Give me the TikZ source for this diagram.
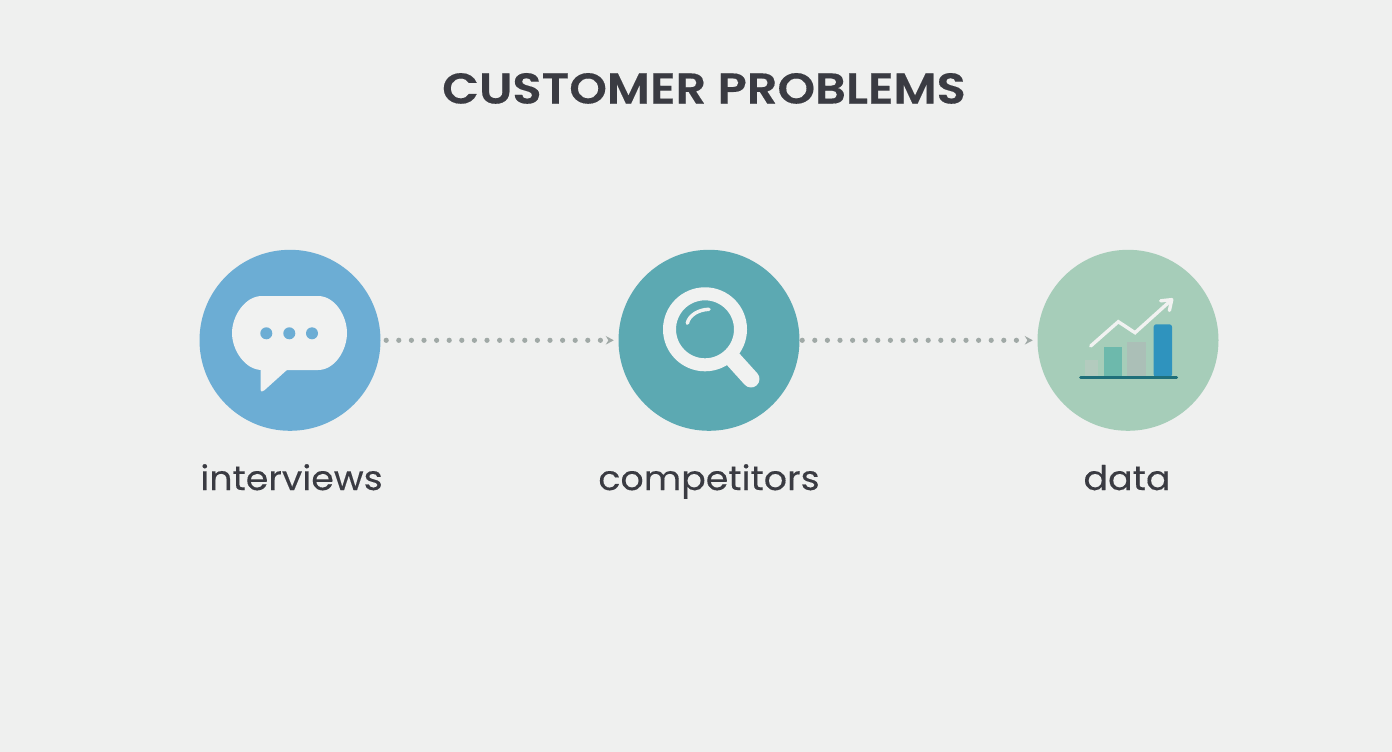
\documentclass[tikz,border=0pt]{standalone}
\usepackage{fontspec}
\setmainfont{Poppins}
\newfontfamily\titlefont[FakeStretch=1.115,FakeBold=0.3]{Poppins SemiBold}
\newfontfamily\captionfont[FakeStretch=1.07,FakeBold=0.3]{Poppins}
\usetikzlibrary{arrows.meta}

\definecolor{pagebg}{HTML}{EFF0EF}
\definecolor{inktext}{HTML}{3A3B42}
\definecolor{dotgray}{HTML}{A0A9A6}
\definecolor{iconwhite}{HTML}{F1F2F1}
\definecolor{skyblue}{HTML}{6CADD4}
\definecolor{seateal}{HTML}{5CA9B2}
\definecolor{sagegreen}{HTML}{A6CDB9}
\definecolor{barfaint}{HTML}{B3CBBE}
\definecolor{barteal}{HTML}{6DB9AC}
\definecolor{bargray}{HTML}{ABBFB7}
\definecolor{barblue}{HTML}{2F93BE}
\definecolor{baseteal}{HTML}{1F6F7A}

\tikzset{
  disc/.style={circle,inner sep=0pt,minimum size=181pt},
  caption/.style={anchor=base,text=inktext,font=\captionfont\fontsize{34}{40}\selectfont},
  dotline/.style={dotgray,line width=5.2pt,line cap=round,dash pattern=on 0pt off 12.6pt,
    shorten <=5.5pt,shorten >=4.5pt,-{Stealth[length=8pt,width=8.5pt,line cap=butt]}},
}

\begin{document}
\begin{tikzpicture}[x=1pt,y=-1pt]
    \fill[pagebg] (0,0) rectangle (1392,752);
    \useasboundingbox (0,0) rectangle (1392,752);
    \node[anchor=base,text=inktext,font=\titlefont\fontsize{43}{50}\selectfont] (title) at (704,103.5) {CUSTOMER PROBLEMS};
    \node[disc,fill=skyblue] (interviews) at (290,340.3) {};
    \node[disc,fill=seateal] (competitors) at (709,340.3) {};
    \node[disc,fill=sagegreen] (data) at (1128,340.3) {};
    \node[caption] (interviewstext) at (291.5,490) {interviews};
    \node[caption] (competitorstext) at (709,490) {competitors};
    \node[caption] (datatext) at (1127,490) {data};
    \draw[dotline] (interviews) -- (competitors);
    \draw[dotline,shorten <=2.5pt] (competitors) -- (data);
    % speech bubble
    \fill[iconwhite] (262,296) -- (318,296) .. controls (335,296) and (347,316) .. (347,333)
      .. controls (347,350) and (335,370) .. (318,370) -- (262,370)
      .. controls (245,370) and (232,350) .. (232,333) .. controls (232,316) and (245,296) .. (262,296) -- cycle;
    \fill[iconwhite,rounded corners=1.5pt] (260.5,360) -- (260.5,391.5) -- (263,391.5) -- (288,369) -- (288,360) -- cycle;
    \fill[skyblue] (266.3,333.3) circle (6) (289.3,333.3) circle (6) (312,333.3) circle (6);
    % magnifier
    \draw[iconwhite,line width=17pt,line cap=round] (732,358) -- (751,379);
    \draw[iconwhite,line width=13pt] (705,329.3) circle (35.5);
    \draw[iconwhite,line width=3.5pt,line cap=round] (687.3,323.3) .. controls (689,315) and (699,309.5) .. (709,309.3);
    % chart
    \fill[barfaint] (1085,360) rectangle (1098,377);
    \fill[barteal] (1103.7,346.7) rectangle (1121.7,377);
    \fill[bargray] (1127.3,341.7) rectangle (1145.7,377);
    \fill[barblue,rounded corners=2.5pt] (1153.7,377) -- (1153.7,324.3) -- (1172,324.3) -- (1172,377) -- cycle;
    \draw[baseteal,line width=3pt,line cap=round] (1080.5,377) -- (1176.5,377);
    \draw[iconwhite,line width=3.4pt,line cap=round,-{Straight Barb[length=9pt,width=13pt,round]}] (1090.7,346) -- (1118.3,321.7) -- (1135,332.7) -- (1173,298.5);
\end{tikzpicture}
\end{document}
